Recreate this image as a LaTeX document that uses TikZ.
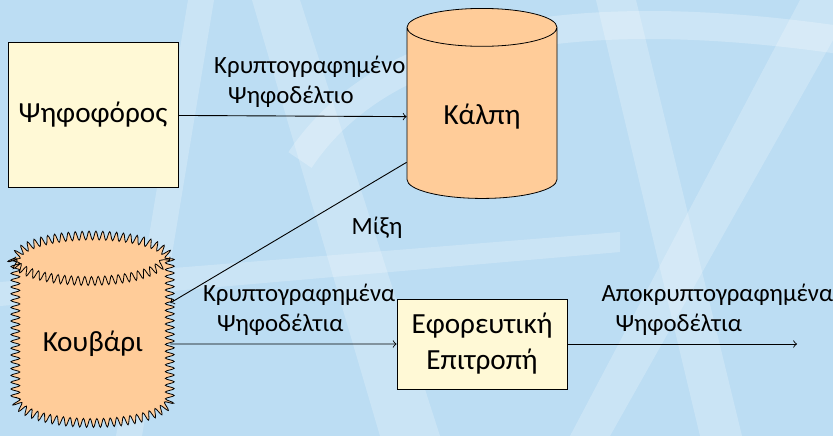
\documentclass[tikz,border=0pt]{standalone}
\usepackage{fontspec}
\setmainfont{Carlito}
\usetikzlibrary{shapes.geometric,decorations.pathmorphing}
\definecolor{bg}{RGB}{188,221,243}
\definecolor{boxfill}{RGB}{255,249,214}
\definecolor{cylfill}{RGB}{255,204,153}
\begin{document}
\begin{tikzpicture}[x=0.5pt,y=-0.5pt,
  streak/.style={white,opacity=0.22},
  plainbox/.style={draw,fill=boxfill,rectangle,font=\fontsize{14.6}{18}\selectfont,align=center},
  cyl/.style={draw,fill=cylfill,cylinder,shape border rotate=90,aspect=0.42,font=\fontsize{14.6}{18}\selectfont},
  lbl/.style={font=\fontsize{12.4}{15}\selectfont,align=left,inner sep=1pt},
  conn/.style={->,line width=0.45pt}]
\fill[bg] (0,0) rectangle (833,436);
\useasboundingbox (0,0) rectangle (833,436);
% background streaks
\begin{scope}
\clip (0,0) rectangle (833,436);
\fill[streak] (188,0) -- (214,0) -- (142,436) -- (116,436) -- cycle;
\fill[streak] (252,0) -- (300,0) -- (440,436) -- (380,436) -- cycle;
\fill[streak] (0,282) -- (620,232) -- (620,252) -- (0,306) -- cycle;
\fill[streak] (596,0) -- (636,0) -- (742,436) -- (700,436) -- cycle;
\fill[streak] (800,0) -- (833,0) -- (833,40) -- (610,436) -- (570,436) -- cycle;
\draw[white,opacity=0.25,line width=14pt] (300,160) .. controls (380,40) and (560,0) .. (840,40);
\end{scope}
% nodes
\node[plainbox,minimum width=85pt,minimum height=72.5pt] (voter) at (93,115) {Ψηφοφόρος};
\node[cyl,minimum width=75pt,minimum height=95pt] (urn) at (482,117) {Κάλπη};
\node[cyl,minimum width=77pt,minimum height=94pt,decorate,
      decoration={snake,amplitude=2.2pt,segment length=3.4pt}] (ball) at (93,344) {Κουβάρι};
\node[plainbox,minimum width=85pt,minimum height=45pt] (comm) at (482,344) {Εφορευτική\\Επιτροπή};
\coordinate (out) at (797,344);
% connectors
\draw[conn] (voter) -- node[lbl,pos=0.576,anchor=south,yshift=3pt] {Κρυπτογραφημένο\\\hspace*{7pt}Ψηφοδέλτιο} (urn);
\draw[conn] (urn.211) -- (ball.28);
\node[lbl] (mix) at (377,228) {Μίξη};
\draw[conn] (ball) -- node[lbl,pos=0.569,anchor=south,yshift=3pt] {Κρυπτογραφημένα\\\hspace*{7pt}Ψηφοδέλτια} (comm);
\draw[conn] (comm) -- node[lbl,pos=0.653,anchor=south,yshift=3pt] {Αποκρυπτογραφημένα\\\hspace*{7pt}Ψηφοδέλτια} (out);
\end{tikzpicture}
\end{document}
